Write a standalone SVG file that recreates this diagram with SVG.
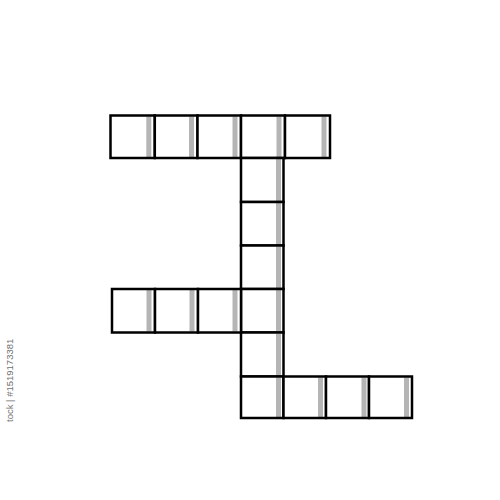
<svg xmlns="http://www.w3.org/2000/svg" width="500" height="500" viewBox="0 0 500 500">
<style>
.c{fill:#fff}
.s{fill:#b5b5b5}
.o{fill:none;stroke:#000;stroke-width:2.5}
.wm{font-family:"Liberation Sans",Arial,sans-serif;font-size:9.5px;fill:#707070}
</style>
<rect width="500" height="500" fill="#fff"/>
<g id="top-row">
<g id="t1"><rect class="c" x="110.5" y="115.5" width="44.3" height="42.5"/><rect class="s" x="146.3" y="116.5" width="5" height="40.5"/><rect class="o" x="110.5" y="115.5" width="44.3" height="42.5"/></g>
<g id="t2"><rect class="c" x="154.8" y="115.5" width="42.7" height="42.5"/><rect class="s" x="189" y="116.5" width="5" height="40.5"/><rect class="o" x="154.8" y="115.5" width="42.7" height="42.5"/></g>
<g id="t3"><rect class="c" x="197.5" y="115.5" width="43.5" height="42.5"/><rect class="s" x="232.5" y="116.5" width="5" height="40.5"/><rect class="o" x="197.5" y="115.5" width="43.5" height="42.5"/></g>
<g id="t4"><rect class="c" x="241" y="115.5" width="44" height="42.5"/><rect class="s" x="276.5" y="116.5" width="5" height="40.5"/><rect class="o" x="241" y="115.5" width="44" height="42.5"/></g>
<g id="t5"><rect class="c" x="285" y="115.5" width="45" height="42.5"/><rect class="s" x="321.5" y="116.5" width="5" height="40.5"/><rect class="o" x="285" y="115.5" width="45" height="42.5"/></g>
</g>
<g id="column">
<g id="v1"><rect class="c" x="241" y="158" width="42.5" height="44"/><rect class="s" x="276" y="159" width="5" height="42"/><rect class="o" x="241" y="158" width="42.5" height="44"/></g>
<g id="v2"><rect class="c" x="241" y="202" width="42.5" height="43.5"/><rect class="s" x="276" y="203" width="5" height="41.5"/><rect class="o" x="241" y="202" width="42.5" height="43.5"/></g>
<g id="v3"><rect class="c" x="241" y="245.5" width="42.5" height="43.5"/><rect class="s" x="276" y="246.5" width="5" height="41.5"/><rect class="o" x="241" y="245.5" width="42.5" height="43.5"/></g>
<g id="v4"><rect class="c" x="241" y="289" width="42.5" height="43.5"/><rect class="s" x="276" y="290" width="5" height="41.5"/><rect class="o" x="241" y="289" width="42.5" height="43.5"/></g>
<g id="v5"><rect class="c" x="241" y="332.5" width="42.5" height="44"/><rect class="s" x="276" y="333.5" width="5" height="42"/><rect class="o" x="241" y="332.5" width="42.5" height="44"/></g>
</g>
<g id="middle-row">
<g id="m1"><rect class="c" x="112" y="289" width="43" height="43.5"/><rect class="s" x="146.5" y="290" width="5" height="41.5"/><rect class="o" x="112" y="289" width="43" height="43.5"/></g>
<g id="m2"><rect class="c" x="155" y="289" width="43" height="43.5"/><rect class="s" x="189.5" y="290" width="5" height="41.5"/><rect class="o" x="155" y="289" width="43" height="43.5"/></g>
<g id="m3"><rect class="c" x="198" y="289" width="43" height="43.5"/><rect class="s" x="232.5" y="290" width="5" height="41.5"/><rect class="o" x="198" y="289" width="43" height="43.5"/></g>
</g>
<g id="bottom-row">
<g id="b1"><rect class="c" x="241" y="376.5" width="42.5" height="41.5"/><rect class="s" x="276" y="377.5" width="5" height="39.5"/><rect class="o" x="241" y="376.5" width="42.5" height="41.5"/></g>
<g id="b2"><rect class="c" x="283.5" y="376.5" width="42.5" height="41.5"/><rect class="s" x="318" y="377.5" width="5" height="39.5"/><rect class="o" x="283.5" y="376.5" width="42.5" height="41.5"/></g>
<g id="b3"><rect class="c" x="326" y="376.5" width="43" height="41.5"/><rect class="s" x="361.5" y="377.5" width="5" height="39.5"/><rect class="o" x="326" y="376.5" width="43" height="41.5"/></g>
<g id="b4"><rect class="c" x="369" y="376.5" width="43" height="41.5"/><rect class="s" x="404" y="377.5" width="5" height="39.5"/><rect class="o" x="369" y="376.5" width="43" height="41.5"/></g>
</g>
<g id="connectors"/>
<text class="wm" transform="translate(12.5,422) rotate(-90)">tock | #1519173381</text>
</svg>
